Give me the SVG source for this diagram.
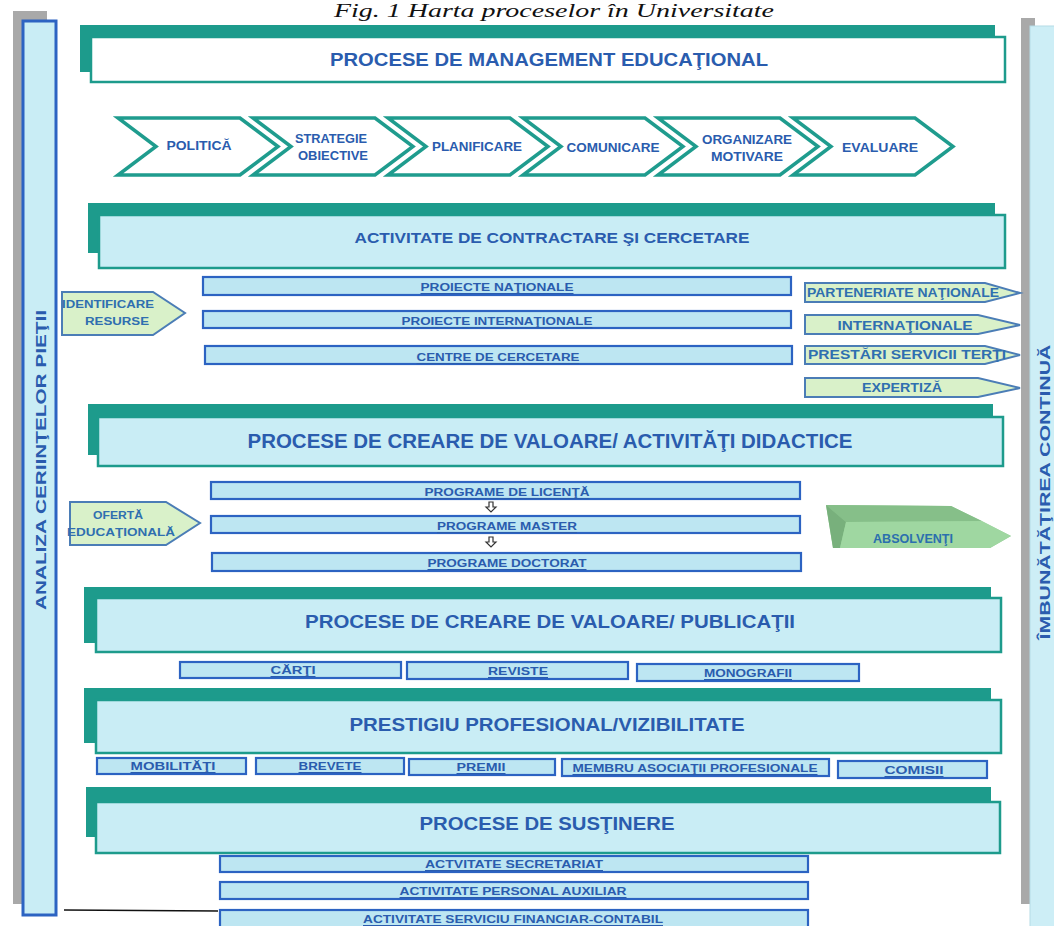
<svg xmlns="http://www.w3.org/2000/svg" width="1054" height="926" viewBox="0 0 1054 926">
<style>
text{font-family:"Liberation Sans",Arial,sans-serif;font-weight:bold;fill:#2a5cae;text-anchor:middle;dominant-baseline:central}
.back{fill:#1d9b8c}
.front{fill:#c9edf5;stroke:#1d9b8c;stroke-width:2.5}
.bar{fill:#bde6f2;stroke:#2c63c2;stroke-width:2.2}
.chev{fill:#fff;stroke:#1f9c8e;stroke-width:3.5;stroke-linejoin:miter}
.pent{fill:#d9f1c9;stroke:#4b7db6;stroke-width:2}
.ttl{font-size:19px}
.sm{font-size:11px;text-decoration:underline}
.ch{font-size:12px}
.pt{font-size:12px;fill:#2f6fb0}
.side{fill:#c9edf5;stroke:#2c63c2;stroke-width:3}
</style>
<rect width="1054" height="926" fill="#fff"/>
<text x="554" y="17" style="font-family:'Liberation Serif',serif;font-weight:normal;font-style:italic;font-size:19px;fill:#111;dominant-baseline:auto" textLength="440" lengthAdjust="spacingAndGlyphs">Fig. 1 Harta proceselor în Universitate</text>

<g id="left-bar">
<rect x="13" y="11" width="34" height="893" fill="#a9a9a9"/>
<rect x="23" y="21" width="33" height="894" class="side"/>
<text transform="translate(40,460) rotate(-90)" style="font-size:15px" textLength="300" lengthAdjust="spacingAndGlyphs">ANALIZA CERIINŢELOR PIEŢII</text>
</g>
<g id="right-bar">
<rect x="1021" y="18" width="14" height="886" fill="#a9a9a9"/>
<rect x="1030" y="26" width="30" height="910" fill="#cdeef6" stroke="#b6dbe6" stroke-width="1"/>
<text transform="translate(1045,492) rotate(-90)" style="font-size:14px" textLength="295" lengthAdjust="spacingAndGlyphs">ÎMBUNĂTĂŢIREA CONTINUĂ</text>
</g>

<g id="management">
<rect x="80" y="25" width="915" height="47" class="back"/>
<rect x="91" y="37" width="914" height="45" fill="#fff" stroke="#1d9b8c" stroke-width="2.5"/>
<text x="549" y="59" class="ttl" textLength="438" lengthAdjust="spacingAndGlyphs">PROCESE DE MANAGEMENT EDUCAŢIONAL</text>
</g>

<g id="chevrons">
<g id="politica"><polygon class="chev" points="118,118 240,118 278,146.5 240,175 118,175 156,146.5"/><text x="199" y="146" class="ch" textLength="65" lengthAdjust="spacingAndGlyphs">POLITICĂ</text></g>
<g id="strategie"><polygon class="chev" points="253,118 375,118 413,146.5 375,175 253,175 291,146.5"/><text x="331" y="139" class="ch" textLength="72" lengthAdjust="spacingAndGlyphs">STRATEGIE</text><text x="333" y="156" class="ch" textLength="70" lengthAdjust="spacingAndGlyphs">OBIECTIVE</text></g>
<g id="planificare"><polygon class="chev" points="388,118 510,118 548,146.5 510,175 388,175 426,146.5"/><text x="477" y="147" class="ch" textLength="90" lengthAdjust="spacingAndGlyphs">PLANIFICARE</text></g>
<g id="comunicare"><polygon class="chev" points="523,118 645,118 683,146.5 645,175 523,175 561,146.5"/><text x="613" y="148" class="ch" textLength="93" lengthAdjust="spacingAndGlyphs">COMUNICARE</text></g>
<g id="organizare"><polygon class="chev" points="658,118 780,118 818,146.5 780,175 658,175 696,146.5"/><text x="747" y="140" class="ch" textLength="90" lengthAdjust="spacingAndGlyphs">ORGANIZARE</text><text x="747" y="157" class="ch" textLength="72" lengthAdjust="spacingAndGlyphs">MOTIVARE</text></g>
<g id="evaluare"><polygon class="chev" points="793,118 915,118 953,146.5 915,175 793,175 831,146.5"/><text x="880" y="148" class="ch" textLength="76" lengthAdjust="spacingAndGlyphs">EVALUARE</text></g>
</g>

<g id="contractare">
<rect x="88" y="203" width="907" height="50" class="back"/>
<rect x="99" y="215" width="906" height="53" class="front"/>
<text x="552" y="237" style="font-size:15px" textLength="395" lengthAdjust="spacingAndGlyphs">ACTIVITATE DE CONTRACTARE ŞI CERCETARE</text>
</g>
<g id="identificare-resurse">
<polygon class="pent" points="62,292 153,292 185,313 153,335 62,335"/>
<text x="108" y="304" class="pt" style="font-size:11px" textLength="92" lengthAdjust="spacingAndGlyphs">IDENTIFICARE</text>
<text x="117" y="321" class="pt" style="font-size:11px" textLength="64" lengthAdjust="spacingAndGlyphs">RESURSE</text>
</g>
<g id="proiecte-nationale"><rect x="203" y="277" width="588" height="18" class="bar"/><text x="497" y="287" class="sm" textLength="153" lengthAdjust="spacingAndGlyphs">PROIECTE NAŢIONALE</text></g>
<g id="proiecte-internationale"><rect x="203" y="311" width="588" height="17" class="bar"/><text x="497" y="321" class="sm" textLength="191" lengthAdjust="spacingAndGlyphs">PROIECTE INTERNAŢIONALE</text></g>
<g id="centre-cercetare"><rect x="205" y="346" width="587" height="18" class="bar"/><text x="498" y="357" class="sm" textLength="163" lengthAdjust="spacingAndGlyphs">CENTRE DE CERCETARE</text></g>
<g id="parteneriate-nationale"><polygon class="pent" points="805,283 985,283 1020,293 985,302 805,302"/><text x="903" y="293" class="pt" textLength="192" lengthAdjust="spacingAndGlyphs">PARTENERIATE NAŢIONALE</text></g>
<g id="internationale"><polygon class="pent" points="805,315 978,315 1020,325 978,334 805,334"/><text x="905" y="325" class="pt" style="font-size:13px" textLength="135" lengthAdjust="spacingAndGlyphs">INTERNAŢIONALE</text></g>
<g id="prestari-servicii"><polygon class="pent" points="805,346 985,346 1020,355 985,364 805,364"/><text x="907" y="355" class="pt" textLength="198" lengthAdjust="spacingAndGlyphs">PRESTĂRI SERVICII TERŢI</text></g>
<g id="expertiza"><polygon class="pent" points="805,378 978,378 1020,388 978,397 805,397"/><text x="902" y="388" class="pt" textLength="80" lengthAdjust="spacingAndGlyphs">EXPERTIZĂ</text></g>

<g id="didactice">
<rect x="88" y="404" width="905" height="51" class="back"/>
<rect x="98" y="417" width="905" height="49" class="front"/>
<text x="550" y="441" style="font-size:20px" textLength="605" lengthAdjust="spacingAndGlyphs">PROCESE DE CREARE DE VALOARE/ ACTIVITĂŢI DIDACTICE</text>
</g>
<g id="oferta-educationala">
<polygon class="pent" points="70,502 166,502 200,523 166,545 70,545"/>
<text x="118" y="515" class="pt" style="font-size:11px" textLength="50" lengthAdjust="spacingAndGlyphs">OFERTĂ</text>
<text x="121" y="532" class="pt" style="font-size:11px" textLength="108" lengthAdjust="spacingAndGlyphs">EDUCAŢIONALĂ</text>
</g>
<g id="programe-licenta"><rect x="211" y="482" width="589" height="17" class="bar"/><text x="507" y="492" class="sm" textLength="165" lengthAdjust="spacingAndGlyphs">PROGRAME DE LICENŢĂ</text></g>
<g id="programe-master"><rect x="211" y="516" width="589" height="17" class="bar"/><text x="507" y="526" class="sm" textLength="140" lengthAdjust="spacingAndGlyphs">PROGRAME MASTER</text></g>
<g id="programe-doctorat"><rect x="212" y="553" width="589" height="18" class="bar"/><text x="507" y="563" class="sm" textLength="159" lengthAdjust="spacingAndGlyphs">PROGRAME DOCTORAT</text></g>
<g id="absolventi">
<path d="M826,505 L951,506 L1011,536 L990,548 L833,548 Z" fill="#93cc94"/>
<path d="M826,505 L951,506 L982,521 L846,522 Z" fill="#86bf89"/>
<path d="M826,505 L846,522 L840,548 L833,548 Z" fill="#78b07c"/>
<path d="M846,522 L982,521 L1011,536 L990,548 L840,548 Z" fill="#9fd7a1"/>
<text x="913" y="539" style="font-size:12px;fill:#2b6fae" textLength="80" lengthAdjust="spacingAndGlyphs">ABSOLVENŢI</text>
</g>

<g id="publicatii">
<rect x="84" y="587" width="907" height="56" class="back"/>
<rect x="96" y="598" width="905" height="54" class="front"/>
<text x="550" y="621" class="ttl" textLength="490" lengthAdjust="spacingAndGlyphs">PROCESE DE CREARE DE VALOARE/ PUBLICAŢII</text>
</g>
<g id="carti"><rect x="180" y="662" width="221" height="16" class="bar"/><text x="293" y="670" class="sm" textLength="45" lengthAdjust="spacingAndGlyphs">CĂRŢI</text></g>
<g id="reviste"><rect x="407" y="662" width="221" height="17" class="bar"/><text x="518" y="671" class="sm" textLength="60" lengthAdjust="spacingAndGlyphs">REVISTE</text></g>
<g id="monografii"><rect x="637" y="664" width="222" height="17" class="bar"/><text x="748" y="673" class="sm" textLength="88" lengthAdjust="spacingAndGlyphs">MONOGRAFII</text></g>

<g id="prestigiu">
<rect x="84" y="688" width="907" height="55" class="back"/>
<rect x="96" y="700" width="905" height="53" class="front"/>
<text x="547" y="724" class="ttl" textLength="395" lengthAdjust="spacingAndGlyphs">PRESTIGIU PROFESIONAL/VIZIBILITATE</text>
</g>
<g id="mobilitati"><rect x="97" y="758" width="149" height="16" class="bar"/><text x="173" y="766" class="sm" textLength="85" lengthAdjust="spacingAndGlyphs">MOBILITĂŢI</text></g>
<g id="brevete"><rect x="256" y="758" width="148" height="16" class="bar"/><text x="330" y="766" class="sm" textLength="63" lengthAdjust="spacingAndGlyphs">BREVETE</text></g>
<g id="premii"><rect x="409" y="759" width="146" height="16" class="bar"/><text x="481" y="767" class="sm" textLength="49" lengthAdjust="spacingAndGlyphs">PREMII</text></g>
<g id="membru"><rect x="562" y="759" width="267" height="17" class="bar"/><text x="695" y="768" class="sm" textLength="245" lengthAdjust="spacingAndGlyphs">MEMBRU ASOCIAŢII PROFESIONALE</text></g>
<g id="comisii"><rect x="838" y="761" width="149" height="17" class="bar"/><text x="914" y="770" class="sm" textLength="59" lengthAdjust="spacingAndGlyphs">COMISII</text></g>

<g id="sustinere">
<rect x="86" y="787" width="905" height="50" class="back"/>
<rect x="96" y="802" width="904" height="51" class="front"/>
<text x="547" y="823" class="ttl" textLength="255" lengthAdjust="spacingAndGlyphs">PROCESE DE SUSŢINERE</text>
</g>
<g id="secretariat"><rect x="220" y="856" width="588" height="16" class="bar"/><text x="514" y="864" class="sm" textLength="178" lengthAdjust="spacingAndGlyphs">ACTVITATE SECRETARIAT</text></g>
<g id="personal-auxiliar"><rect x="220" y="882" width="588" height="17" class="bar"/><text x="513" y="891" class="sm" textLength="227" lengthAdjust="spacingAndGlyphs">ACTIVITATE PERSONAL AUXILIAR</text></g>
<g id="financiar-contabil"><rect x="220" y="910" width="588" height="18" class="bar"/><text x="513" y="919" class="sm" textLength="300" lengthAdjust="spacingAndGlyphs">ACTIVITATE SERVICIU FINANCIAR-CONTABIL</text></g>

<g id="connectors" fill="#fff" stroke="#333" stroke-width="1.2">
<path d="M489,502 h4 v5 h3 l-5,5 l-5,-5 h3 z"/>
<path d="M489,537 h4 v5 h3 l-5,5 l-5,-5 h3 z"/>
<line x1="64" y1="910" x2="218" y2="911" stroke="#111" stroke-width="1.5"/>
</g>
</svg>
